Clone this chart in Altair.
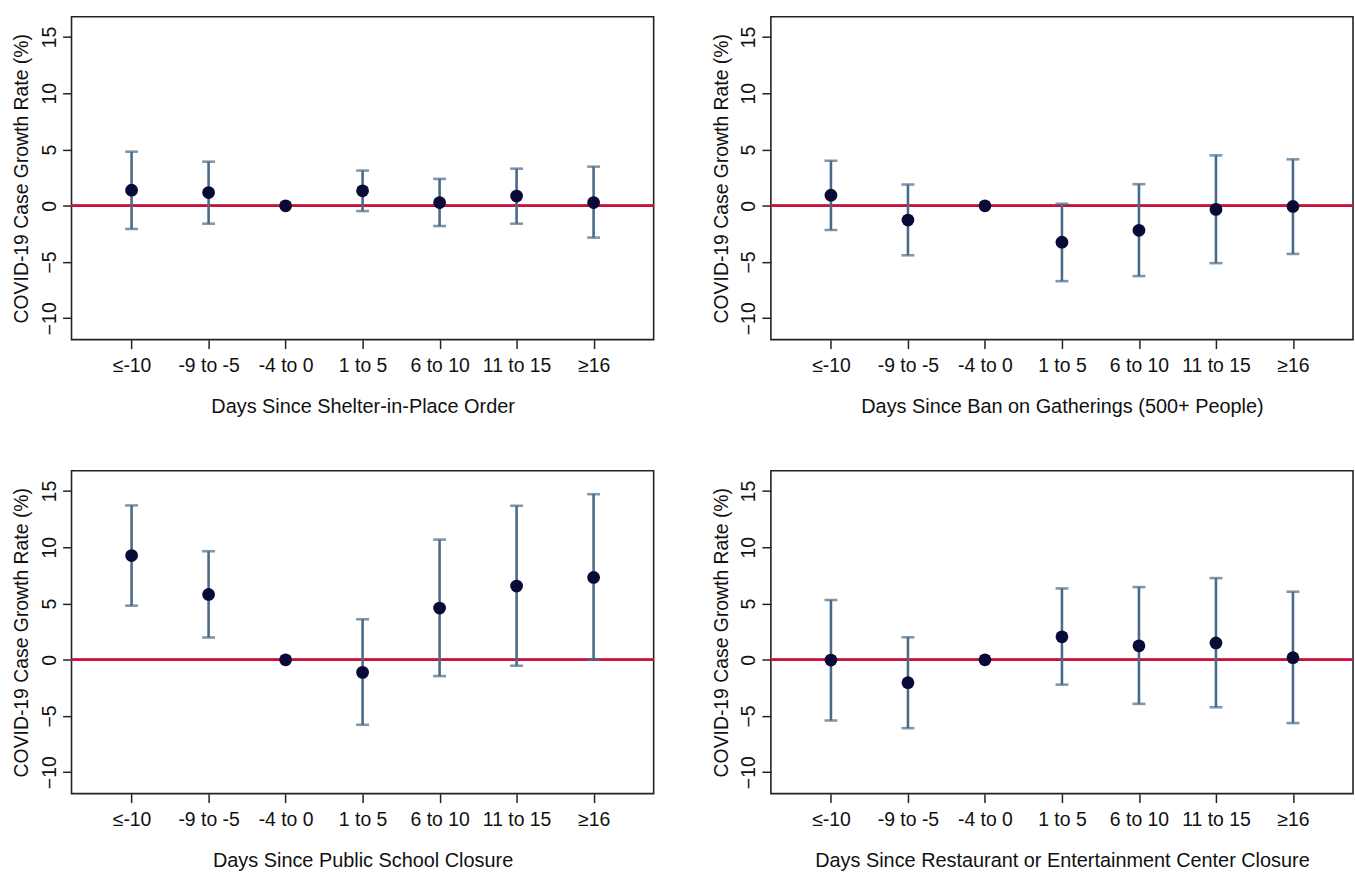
import altair as alt
import pandas as pd

categories = ["≤-10", "-9 to -5", "-4 to 0", "1 to 5", "6 to 10", "11 to 15", "≥16"]

titles = [
    "Days Since Shelter-in-Place Order",
    "Days Since Ban on Gatherings (500+ People)",
    "Days Since Public School Closure",
    "Days Since Restaurant or Entertainment Center Closure",
]

shelter_est = [1.39, 1.18, 0.0, 1.33, 0.29, 0.86, 0.29]
shelter_lo = [-2.06, -1.59, None, -0.47, -1.80, -1.59, -2.83]
shelter_hi = [4.81, 3.92, None, 3.13, 2.39, 3.30, 3.48]

gather_est = [0.94, -1.27, 0.0, -3.24, -2.18, -0.32, -0.06]
gather_lo = [-2.15, -4.40, None, -6.70, -6.25, -5.10, -4.28]
gather_hi = [4.01, 1.89, None, 0.18, 1.92, 4.48, 4.13]

school_est = [9.26, 5.81, 0.0, -1.12, 4.60, 6.55, 7.32]
school_lo = [4.81, 1.98, None, -5.78, -1.45, -0.53, 0.0]
school_hi = [13.72, 9.65, None, 3.60, 10.68, 13.69, 14.72]

rest_est = [-0.03, -2.04, 0.0, 2.04, 1.24, 1.50, 0.18]
rest_lo = [-5.40, -6.08, None, -2.21, -3.92, -4.22, -5.63]
rest_hi = [5.31, 2.00, None, 6.34, 6.46, 7.26, 6.05]

series = [
    (shelter_est, shelter_lo, shelter_hi),
    (gather_est, gather_lo, gather_hi),
    (school_est, school_lo, school_hi),
    (rest_est, rest_lo, rest_hi),
]

FONT = "Liberation Sans"
BAR = "#4a6b88"
DOT = "#0a0a38"
RED = "#c8143c"


def panel(title, est, lo, hi):
    df = pd.DataFrame({"cat": categories, "est": est, "lo": lo, "hi": hi})
    base = alt.Chart(df)
    x = alt.X(
        "cat:O",
        sort=categories,
        scale=alt.Scale(type="point", padding=0.78),
        axis=alt.Axis(
            title=title,
            labelAngle=0,
            tickSize=9,
            tickWidth=1.5,
            tickColor="#222",
            labelPadding=8,
            titlePadding=22,
            domain=False,
            labelFontSize=19.5,
            titleFontSize=20,
            titleFontWeight="normal",
            labelColor="#111",
            titleColor="#111",
            labelFont=FONT,
            titleFont=FONT,
        ),
    )
    yscale = alt.Scale(domain=[-11.9, 16.8], nice=False, zero=False)
    yaxis = alt.Axis(
        title="COVID-19 Case Growth Rate (%)",
        values=[-10, -5, 0, 5, 10, 15],
        labelAngle=270,
        tickSize=9,
        tickWidth=1.5,
        tickColor="#222",
        labelPadding=3,
        titlePadding=8,
        grid=False,
        domain=False,
        labelFontSize=19.5,
        titleFontSize=19.5,
        titleFontWeight="normal",
        labelColor="#111",
        titleColor="#111",
        labelFont=FONT,
        titleFont=FONT,
    )
    zero = base.mark_rule(color=RED, strokeWidth=2.2).encode(y=alt.datum(0, scale=yscale, axis=yaxis))
    bars = base.mark_rule(color=BAR, strokeWidth=2.6).encode(
        x=x, y=alt.Y("lo:Q", scale=yscale, axis=yaxis), y2="hi:Q"
    )
    cap_lo = base.mark_tick(color=BAR, size=13, thickness=2.6).encode(x=x, y=alt.Y("lo:Q", scale=yscale))
    cap_hi = base.mark_tick(color=BAR, size=13, thickness=2.6).encode(x=x, y=alt.Y("hi:Q", scale=yscale))
    dots = base.mark_circle(color=DOT, size=165, opacity=1).encode(
        x=x, y=alt.Y("est:Q", scale=yscale, axis=yaxis)
    )
    return alt.layer(zero, bars, cap_lo, cap_hi, dots).properties(width=586, height=325)


p = [panel(titles[i], *series[i]) for i in range(4)]

chart = (
    alt.vconcat(
        alt.hconcat(p[0], p[1], spacing=55),
        alt.hconcat(p[2], p[3], spacing=55),
        spacing=52,
    )
    .properties(padding={"left": 11, "top": 13, "right": 0, "bottom": 0}, background="white")
    .configure_view(stroke="#222", strokeWidth=1.6)
    .configure_concat(spacing=55)
)

chart.save("out.html", embed_options={"renderer": "svg", "actions": False})
